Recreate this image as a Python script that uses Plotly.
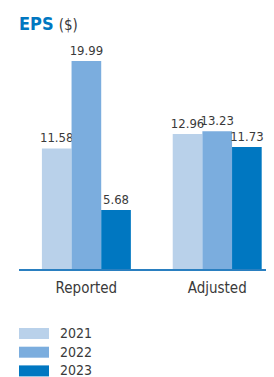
import plotly.graph_objects as go

categories = ["Reported", "Adjusted"]
years = ["2021", "2022", "2023"]
eps_2021 = [11.58, 12.96]
eps_2022 = [19.99, 13.23]
eps_2023 = [5.68, 11.73]
series = [eps_2021, eps_2022, eps_2023]
colors = ["#b9d1ea", "#7badde", "#0077c1"]

FONT = "DejaVu Sans Condensed, Liberation Sans Narrow, Roboto, sans-serif"
TXT = "#3a3a3a"

# the page body has an 8px margin; work in page pixels and convert
OFF = 8
W, H = 274 - OFF, 377 - OFF
# plot area in page pixels
PX0, PX1, PY0, PY1 = 19, 274, 40, 269
ML, MR = PX0 - OFF, W - (PX1 - OFF)
MT, MB = PY0 - OFF, H - (PY1 - OFF)
PW, PH = PX1 - PX0, PY1 - PY0


def px(x):
    return (x - PX0) / PW


def py(y):
    return (PY1 - y) / PH


fig = go.Figure()
for yr, vals, col in zip(years, series, colors):
    fig.add_trace(go.Bar(
        x=categories, y=vals, name=yr, marker=dict(color=col, line=dict(width=0)),
        text=[f"{v:.2f}" for v in vals], textposition="outside",
        textfont=dict(family=FONT, size=13, color=TXT),
        constraintext="none", cliponaxis=False, showlegend=False,
    ))

# custom legend (wide swatches)
shapes, annos = [], []
for i, (yr, col) in enumerate(zip(years, colors)):
    top = 328 + i * 18.7
    bot = top + 11
    shapes.append(dict(type="rect", xref="paper", yref="paper",
                       x0=px(19), x1=px(49), y0=py(bot), y1=py(top),
                       fillcolor=col, line=dict(width=0)))
    annos.append(dict(xref="paper", yref="paper", x=px(58), y=py(top + 5),
                      text=yr, showarrow=False, xanchor="left", yanchor="middle",
                      font=dict(family=FONT, size=14, color=TXT)))

annos.append(dict(xref="paper", yref="paper", x=px(17), y=py(11),
                  xanchor="left", yanchor="top", showarrow=False,
                  text="<b>EPS</b> <span style='font-size:15px;color:#3a3a3a'>($)</span>",
                  font=dict(family=FONT, size=18, color="#0077c1")))

fig.update_layout(
    width=W, height=H, margin=dict(l=ML, r=MR, t=MT, b=MB, autoexpand=False),
    barmode="group", bargap=0.32, bargroupgap=0,
    plot_bgcolor="white", paper_bgcolor="white",
    xaxis=dict(range=[-0.515, 1.434], showline=True, linecolor="#2a7fc0", linewidth=1.5,
               showgrid=False, zeroline=False, ticks="", ticklabelstandoff=4,
               tickfont=dict(family=FONT, size=15, color=TXT)),
    yaxis=dict(range=[0, 22.0], visible=False, showgrid=False, zeroline=False),
    shapes=shapes, annotations=annos,
)

fig.write_html("out.html")
